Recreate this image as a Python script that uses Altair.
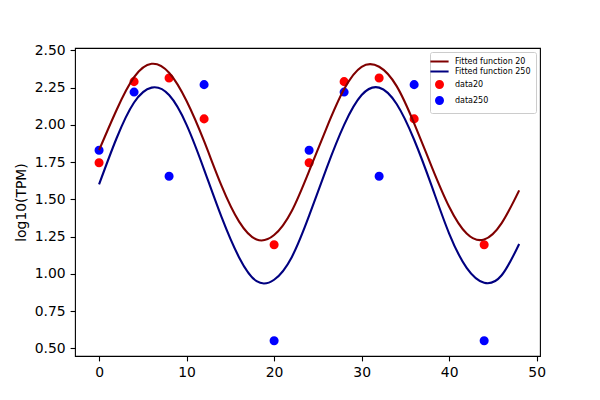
import altair as alt
import pandas as pd

# ---- data ----
curve_x = [0, 2, 4, 6, 8, 10, 12, 14, 16, 18, 20, 22, 24,
           26, 28, 30, 32, 34, 36, 38, 40, 42, 44, 46, 48]
fit20 = [1.83, 2.10, 2.32, 2.41, 2.35, 2.16, 1.89, 1.59, 1.35, 1.23, 1.26, 1.42, 1.69,
         1.98, 2.24, 2.39, 2.39, 2.26, 2.01, 1.72, 1.45, 1.27, 1.23, 1.34, 1.56]
fit250 = [1.60, 1.91, 2.15, 2.25, 2.20, 2.00, 1.70, 1.38, 1.11, 0.95, 0.96, 1.11, 1.39,
          1.71, 2.00, 2.20, 2.25, 2.14, 1.90, 1.59, 1.27, 1.04, 0.94, 0.99, 1.20]

point_x = [0, 4, 8, 12, 20, 24, 28, 32, 36, 44]
data20 = [1.745, 2.29, 2.315, 2.04, 1.195, 1.745, 2.29, 2.315, 2.04, 1.195]
data250 = [1.83, 2.22, 1.655, 2.27, 0.55, 1.83, 2.22, 1.655, 2.27, 0.55]

series_names = ["Fitted function 20", "Fitted function 250", "data20", "data250"]
series_colors = ["#800000", "#000080", "#ff0000", "#0000ff"]
series_shapes = ["M-2.6,0H2.6", "M-2.6,0H2.6", "circle", "circle"]

x_ticks = [0, 10, 20, 30, 40, 50]
y_ticks = [0.50, 0.75, 1.00, 1.25, 1.50, 1.75, 2.00, 2.25, 2.50]

# ---- tables ----
lines_df = pd.concat([
    pd.DataFrame({"x": curve_x, "y": fit20, "series": series_names[0]}),
    pd.DataFrame({"x": curve_x, "y": fit250, "series": series_names[1]}),
])
points_df = pd.concat([
    pd.DataFrame({"x": point_x, "y": data20, "series": series_names[2]}),
    pd.DataFrame({"x": point_x, "y": data250, "series": series_names[3]}),
])

color_scale = alt.Scale(domain=series_names, range=series_colors)
shape_scale = alt.Scale(domain=series_names, range=series_shapes)

x_enc = alt.X("x:Q", scale=alt.Scale(domain=[-2.75, 50.38], nice=False, zero=False),
              axis=alt.Axis(values=x_ticks, format="d", title=None))
y_enc = alt.Y("y:Q", scale=alt.Scale(domain=[0.448, 2.516], nice=False, zero=False),
              axis=alt.Axis(values=y_ticks, format=".2f", title="log10(TPM)"))

legend = alt.Legend(title=None, orient="top-right", offset=4)

points = alt.Chart(points_df).mark_point(
    filled=True, size=50, opacity=1, strokeWidth=2
).encode(
    x=x_enc,
    y=y_enc,
    fill=alt.Fill("series:N", scale=color_scale, legend=legend),
    stroke=alt.Stroke("series:N", scale=color_scale, legend=legend),
    shape=alt.Shape("series:N", scale=shape_scale, legend=legend),
)

lines = alt.Chart(lines_df).mark_line(strokeWidth=2.1, interpolate="natural").encode(
    x=x_enc,
    y=y_enc,
    stroke=alt.Stroke("series:N", scale=color_scale, legend=None),
    detail="series:N",
)

chart = alt.layer(points, lines).properties(
    width=465,
    height=308,
    autosize=alt.AutoSizeParams(type="none"),
    padding={"left": 67, "top": 40, "right": 52, "bottom": 44},
).configure_view(
    stroke="black", strokeWidth=1.1
).configure_axis(
    grid=False,
    domain=False,
    ticks=True,
    tickColor="black",
    tickSize=4.9,
    tickWidth=1.1,
    labelPadding=4.9,
    labelFont="DejaVu Sans",
    labelFontSize=13.9,
    labelColor="black",
    titleFont="DejaVu Sans",
    titleFontSize=13.9,
    titleFontWeight="normal",
    titleColor="black",
    titlePadding=6,
).configure_legend(
    labelFont="DejaVu Sans",
    labelFontSize=8,
    labelColor="black",
    fillColor="white",
    strokeColor="#cccccc",
    cornerRadius=2,
    padding=5,
    symbolSize=49,
    symbolStrokeWidth=2,
    rowPadding=1,
    labelOffset=11,
)

chart.save("out.html", embed_options={"renderer": "svg", "actions": False})
